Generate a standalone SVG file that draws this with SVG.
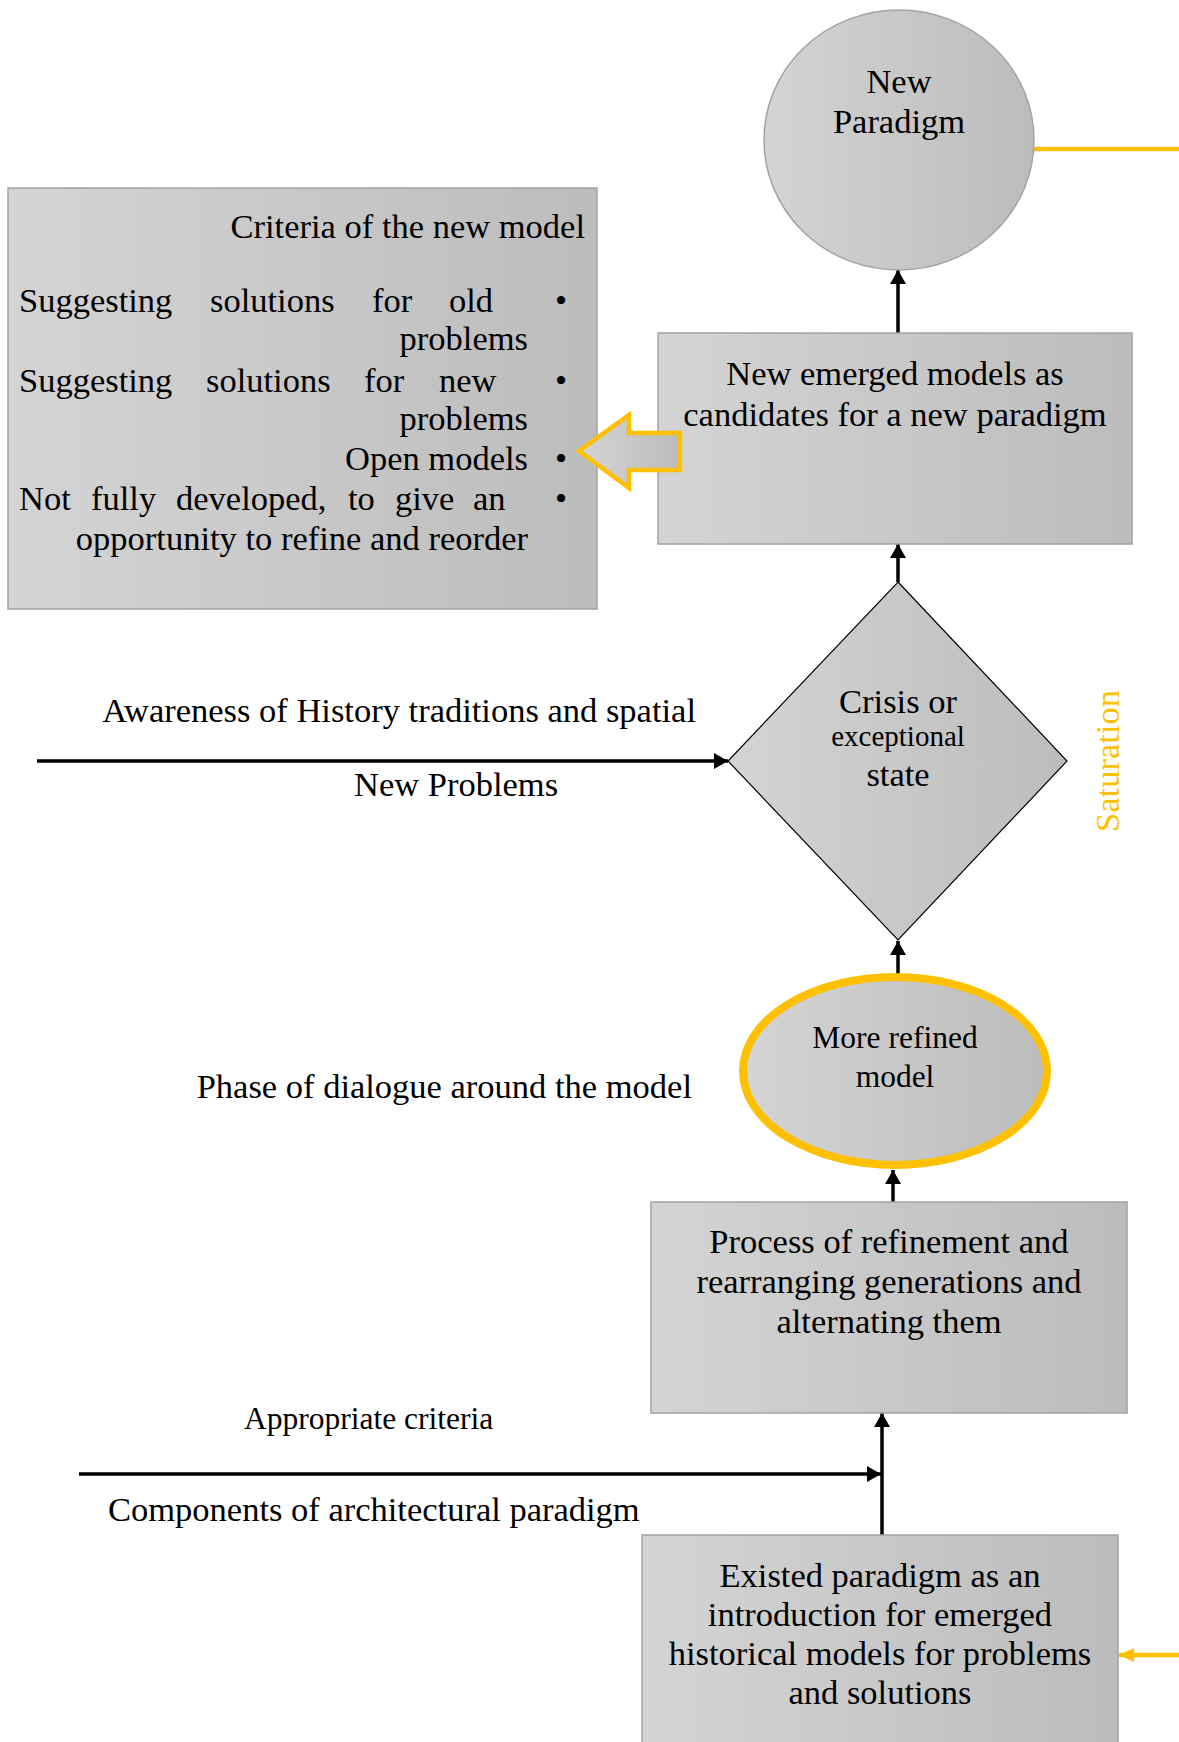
<svg xmlns="http://www.w3.org/2000/svg" width="1179" height="1742" viewBox="0 0 1179 1742">
<style>
  text { font-family: "Liberation Serif", "Times New Roman", serif; fill: #000; }
  .t { font-size: 34.5px; }
  .s { font-size: 31.5px; }
  .c { text-anchor: middle; }
  .r { text-anchor: end; }
  .box { fill: url(#g); stroke: #A3A3A3; stroke-width: 1.5; }
  .conn { stroke: #000; stroke-width: 3.5; fill: none; }
  .yconn { stroke: #FFC000; stroke-width: 4.5; fill: none; }
</style>
<defs>
  <linearGradient id="g" x1="0" y1="0" x2="1" y2="0">
    <stop offset="0" stop-color="#D4D4D4"/>
    <stop offset="1" stop-color="#BCBCBC"/>
  </linearGradient>
  <marker id="ah" markerUnits="userSpaceOnUse" markerWidth="16" markerHeight="16" refX="14" refY="8" orient="auto">
    <path d="M0,0 L14,8 L0,16 z" fill="#000"/>
  </marker>
  <marker id="yah" markerUnits="userSpaceOnUse" markerWidth="16" markerHeight="16" refX="15" refY="8" orient="auto">
    <path d="M0,1 L15,8 L0,15 z" fill="#FFC000"/>
  </marker>
</defs>

<g id="connectors">
  <line class="conn" x1="898" y1="333" x2="898" y2="270" marker-end="url(#ah)"/>
  <line class="conn" x1="898" y1="582" x2="898" y2="544" marker-end="url(#ah)"/>
  <line class="conn" x1="898" y1="974" x2="898" y2="941" marker-end="url(#ah)"/>
  <line class="conn" x1="893" y1="1202" x2="893" y2="1170" marker-end="url(#ah)"/>
  <line class="conn" x1="882" y1="1536" x2="882" y2="1413" marker-end="url(#ah)"/>
  <line class="conn" x1="79" y1="1474" x2="881" y2="1474" marker-end="url(#ah)"/>
  <line class="conn" x1="37" y1="761" x2="728" y2="761" marker-end="url(#ah)"/>
  <line class="yconn" x1="1034" y1="149" x2="1179" y2="149"/>
  <line class="yconn" x1="1179" y1="1655" x2="1119" y2="1655" marker-end="url(#yah)"/>
</g>

<g id="new-paradigm">
  <ellipse cx="899" cy="140" rx="135" ry="130" fill="url(#g)" stroke="#A3A3A3" stroke-width="1.5"/>
  <text class="t c" x="899" y="93">New</text>
  <text class="t c" x="899" y="133">Paradigm</text>
</g>

<g id="criteria">
  <rect class="box" x="8" y="188" width="589" height="421"/>
  <text class="t r" x="585" y="238">Criteria of the new model</text>
  <text class="t" x="19" y="312">Suggesting</text>
  <text class="t" x="210" y="312">solutions</text>
  <text class="t" x="372" y="312">for</text>
  <text class="t" x="449" y="312">old</text>
  <text class="t c" x="561" y="312">•</text>
  <text class="t r" x="528" y="350">problems</text>
  <text class="t" x="19" y="392">Suggesting</text>
  <text class="t" x="206" y="392">solutions</text>
  <text class="t" x="364" y="392">for</text>
  <text class="t" x="439" y="392">new</text>
  <text class="t c" x="561" y="392">•</text>
  <text class="t r" x="528" y="430">problems</text>
  <text class="t r" x="528" y="470">Open models</text>
  <text class="t c" x="561" y="470">•</text>
  <text class="t" x="19" y="510">Not</text>
  <text class="t" x="91" y="510">fully</text>
  <text class="t" x="176" y="510">developed,</text>
  <text class="t" x="348" y="510">to</text>
  <text class="t" x="395" y="510">give</text>
  <text class="t" x="473" y="510">an</text>
  <text class="t c" x="561" y="510">•</text>
  <text class="t r" x="528" y="550">opportunity to refine and reorder</text>
</g>

<g id="new-emerged-models">
  <rect class="box" x="658" y="333" width="474" height="211"/>
  <text class="t c" x="895" y="385">New emerged models as</text>
  <text class="t c" x="895" y="426">candidates for a new paradigm</text>
</g>

<g id="hollow-arrow">
  <polygon points="579,451 629,415 629,433 680,433 680,470 629,470 629,488" fill="url(#g)" stroke="#FFC000" stroke-width="4.5" stroke-linejoin="miter"/>
</g>

<g id="crisis">
  <polygon points="898,582 1067,761 898,940 728,761" fill="url(#g)" stroke="#000" stroke-width="1.2"/>
  <text class="t c" x="898" y="713">Crisis or</text>
  <text class="c" x="898" y="746" style="font-size:29px">exceptional</text>
  <text class="t c" x="898" y="786">state</text>
</g>

<g id="saturation">
  <text class="t c" transform="translate(1119,761) rotate(-90)" style="fill:#FFC000">Saturation</text>
</g>

<g id="labels">
  <text class="t r" x="696" y="722">Awareness of History traditions and spatial</text>
  <text class="t" x="354" y="796">New Problems</text>
  <text class="t r" x="692" y="1098">Phase of dialogue around the model</text>
  <text class="s" x="244" y="1429">Appropriate criteria</text>
  <text class="t" x="108" y="1521">Components of architectural paradigm</text>
</g>

<g id="more-refined-model">
  <ellipse cx="895" cy="1071" rx="152" ry="94" fill="url(#g)" stroke="#FFC000" stroke-width="8"/>
  <text class="s c" x="895" y="1048">More refined</text>
  <text class="s c" x="895" y="1087">model</text>
</g>

<g id="process">
  <rect class="box" x="651" y="1202" width="476" height="211"/>
  <text class="t c" x="889" y="1253">Process of refinement and</text>
  <text class="t c" x="889" y="1293">rearranging generations and</text>
  <text class="t c" x="889" y="1333">alternating them</text>
</g>

<g id="existed-paradigm">
  <rect class="box" x="642" y="1535" width="476" height="215"/>
  <text class="t c" x="880" y="1587">Existed paradigm as an</text>
  <text class="t c" x="880" y="1626">introduction for emerged</text>
  <text class="t c" x="880" y="1665">historical models for problems</text>
  <text class="t c" x="880" y="1704">and solutions</text>
</g>
</svg>
